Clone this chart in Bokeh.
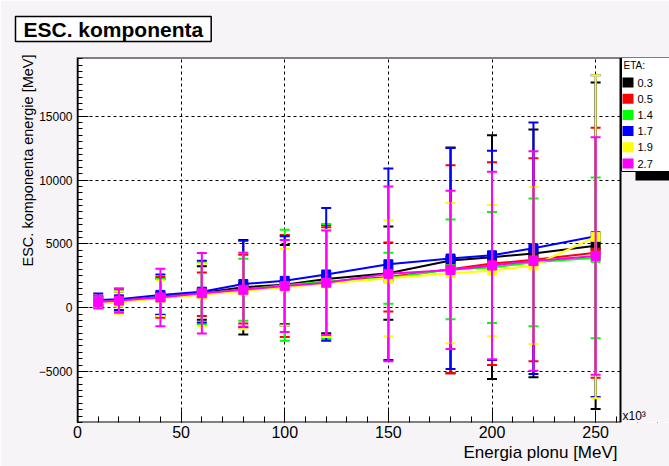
import numpy as np
from bokeh.plotting import figure
from bokeh.models import (Range1d, SingleIntervalTicker, Label, Title, BoxAnnotation,
                          ColumnDataSource)
from bokeh.embed import file_html
from bokeh.resources import INLINE

# ---------------- data ----------------
energy = [10, 20, 40, 60, 80, 100, 120, 150, 180, 200, 220, 250]
eta_labels = ["0.3", "0.5", "1.4", "1.7", "1.9", "2.7"]
eta_colors = ["#000000", "#ff0000", "#00ff00", "#0000ff", "#ffff00", "#ff00ff"]

mean_03 = [400, 500, 850, 1150, 1600, 1800, 2250, 2700, 3700, 3950, 4250, 4850]
err_03 = [450, 800, 1400, 2100, 3700, 3100, 4250, 3650, 8850, 9550, 9700, 12800]
mean_05 = [400, 450, 800, 1050, 1450, 1700, 2000, 2400, 3000, 3450, 3750, 4300]
err_05 = [450, 800, 1600, 1700, 2700, 4000, 4300, 2700, 8150, 7950, 7950, 9800]
mean_14 = [400, 480, 800, 1100, 1400, 1750, 2050, 2300, 3000, 3150, 3550, 3900]
err_14 = [450, 800, 1450, 2400, 2430, 4350, 4500, 2000, 3900, 4350, 5000, 6300]
mean_17 = [600, 650, 1000, 1250, 1850, 2100, 2600, 3400, 3850, 4100, 4650, 5600]
err_17 = [500, 830, 1600, 2420, 3400, 3500, 5200, 7500, 8650, 8200, 9850, 12600]
mean_19 = [350, 400, 750, 1000, 1300, 1600, 1900, 2300, 2700, 2900, 3300, 5550]
err_19 = [450, 870, 1400, 2450, 3000, 3000, 4200, 4550, 5500, 5150, 6150, 12650]
mean_27 = [450, 550, 800, 1130, 1400, 1700, 1950, 2650, 2950, 3300, 3650, 4050]
err_27 = [500, 950, 2250, 3150, 2900, 3600, 4100, 6850, 6200, 7350, 8600, 9300]

means = [mean_03, mean_05, mean_14, mean_17, mean_19, mean_27]
errs = [err_03, err_05, err_14, err_17, err_19, err_27]

# visible axis extents of the plotted box
X_MIN, X_MAX = 0, 262
Y_MIN, Y_MAX = -9000, 19600

FONT = "Liberation Sans"
PAD = "#f7f4f7"

W, H = 669, 466
LEFT, TOP, BOTTOM = 77, 57, 44
FRAME_RIGHT_VIS = 620          # pixel where the drawn box ends
# the frame extends to the right edge; the part past X_MAX holds the legend
x_end = X_MAX * (W - LEFT) / (FRAME_RIGHT_VIS - LEFT)

p = figure(width=W, height=H, output_backend="svg", toolbar_location=None,
           title="ESC. komponenta",
           x_range=Range1d(X_MIN, x_end), y_range=Range1d(Y_MIN, Y_MAX),
           min_border_left=LEFT, min_border_right=0, min_border_top=TOP,
           min_border_bottom=BOTTOM)
p.background_fill_color = "white"
p.border_fill_color = PAD
p.outline_line_color = None

# main title in a box
t = p.title
t.align = "left"
t.vertical_align = "top"
t.text_font = FONT
t.text_font_size = "21px"
t.text_font_style = "bold"
t.text_color = "black"
t.offset = -62
t.standoff = 28
t.border_line_color = "black"
t.border_line_width = 1.5
t.background_fill_color = "white"
try:
    t.padding = (8, 1)
except Exception:
    try:
        t.padding = 3
    except Exception:
        pass

p.xaxis.ticker = SingleIntervalTicker(interval=50, num_minor_ticks=5)
p.yaxis.ticker = SingleIntervalTicker(interval=5000, num_minor_ticks=10)
for ax in (p.xaxis, p.yaxis):
    ax.axis_line_color = "black"
    ax.major_tick_line_color = "black"
    ax.minor_tick_line_color = "black"
    ax.major_tick_out = 0
    ax.minor_tick_out = 0
    ax.major_label_text_font = FONT
    ax.major_label_text_color = "black"
p.xaxis.axis_line_color = None
p.yaxis.axis_line_width = 1.5
p.xaxis.major_tick_in = 12
p.xaxis.minor_tick_in = 6
p.yaxis.major_tick_in = 11
p.yaxis.minor_tick_in = 5
p.xaxis.major_label_text_font_size = "16px"
p.yaxis.major_label_text_font_size = "12px"
p.xaxis.major_label_standoff = 3
p.yaxis.major_label_standoff = 5

for g in (p.xgrid, p.ygrid):
    g.grid_line_color = "black"
    g.grid_line_dash = "3 3"
    g.grid_line_width = 1

for lab, col, m, e in zip(eta_labels, eta_colors, means, errs):
    m = np.array(m, dtype=float)
    e = np.array(e, dtype=float)
    src = ColumnDataSource(dict(x=energy, y=m, lo=m - e, hi=m + e))
    p.segment(x0="x", y0="lo", x1="x", y1="hi", source=src, line_color=col, line_width=2)
    p.scatter(x="x", y="lo", source=src, marker="dash", size=10, line_color=col, line_width=2)
    p.scatter(x="x", y="hi", source=src, marker="dash", size=10, line_color=col, line_width=2)
    p.line(x="x", y="y", source=src, line_color=col, line_width=2)
    p.scatter(x="x", y="y", source=src, marker="square", size=9, fill_color=col, line_color=col)

# strip to the right of the plotted box, filled like the pad
p.add_layout(BoxAnnotation(left=X_MAX, fill_color=PAD, fill_alpha=1, line_alpha=0))
# the box around the plotted area
p.add_layout(BoxAnnotation(left=X_MIN, right=X_MAX, bottom=Y_MIN, top=Y_MAX,
                           fill_alpha=0, line_color="black", line_width=2, line_alpha=1))


def sbox(l, r, b, t_, fill, line=None, lw=1):
    p.add_layout(BoxAnnotation(left=l, right=r, bottom=b, top=t_,
                               left_units="screen", right_units="screen",
                               bottom_units="screen", top_units="screen",
                               fill_color=fill, fill_alpha=1,
                               line_color=line if line else "black",
                               line_alpha=1 if line else 0, line_width=lw))


def slabel(x, y, text, size, **kw):
    p.add_layout(Label(x=x, y=y, x_units="screen", y_units="screen", text=text,
                       text_font=FONT, text_font_size=size, text_color="black",
                       text_baseline="middle", **kw))


# exponent marker next to the x axis end
slabel(545, 7, "x10³", "12px", text_align="left")

# legend (ETA)
sbox(558, 640, 242, 251, "black")
sbox(544, 640, 251, 365, "white", "black", 1)
slabel(546, 357, "ETA:", "10px", text_align="left")
for i, (lab, col) in enumerate(zip(eta_labels, eta_colors)):
    yc = 340 - i * 16.2
    sbox(545, 556, yc - 5, yc + 5, col)
    slabel(560, yc, lab, "11px", text_align="left")

# axis titles
ytitle = Title(text="ESC. komponenta energie [MeV]", align="right", text_font=FONT,
               text_font_size="14.5px", text_font_style="normal", text_color="black",
               standoff=0, offset=-3)
p.add_layout(ytitle, "left")
xtitle = Title(text="Energia plonu [MeV]", align="left", text_font=FONT,
               text_font_size="17px", text_font_style="normal", text_color="black",
               standoff=0, offset=386)
p.add_layout(xtitle, "below")

open("out.html", "w").write(file_html(p, INLINE))
